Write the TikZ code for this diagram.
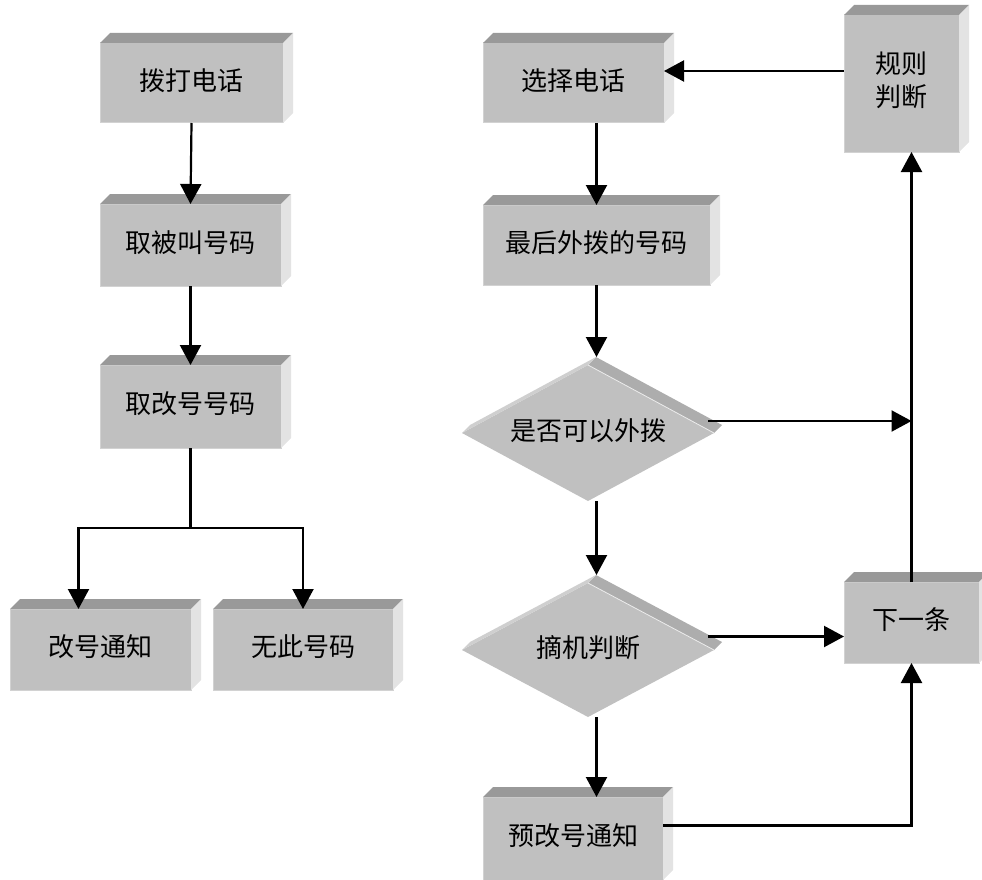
\documentclass[tikz,border=0pt]{standalone}
\usepackage{fontspec}
\newfontfamily\cjk{Noto Sans CJK SC}
\usetikzlibrary{shapes.geometric,arrows.meta,calc}

\definecolor{frontc}{HTML}{C0C0C0}
\definecolor{topc}{HTML}{999999}
\definecolor{sidec}{HTML}{E3E3E3}
\definecolor{edgec}{HTML}{D2D2D2}
\definecolor{dmtop}{HTML}{ADADAD}
\definecolor{dmleft}{HTML}{CFCFCF}

\tikzset{
  flowbox/.style={rectangle, fill=frontc, draw=edgec, line width=1pt, inner sep=0pt, outer sep=0pt,
    font=\cjk\fontsize{26}{33}\selectfont},
  diam/.style={diamond, fill=frontc, inner sep=0pt, outer sep=0pt, aspect=1.85,
    font=\cjk\fontsize{26}{33}\selectfont},
  topface/.style={fill=topc},
  sideface/.style={fill=sidec},
  conn/.style={line width=2.2pt, -{Triangle[width=21pt,length=20pt]}},
  plainline/.style={line width=2.2pt},
}

% name, left, top, right, bottom, text
\newcommand\boxthreed[6]{%
  \node[flowbox, minimum width={#4-#2}, minimum height={#5-#3}] (#1) at ({(#2+#4)/2},{(#3+#5)/2}) {\raisebox{7pt}{#6}};
  \fill[topface] (#1.north west) -- ++(10,-10) -- ($(#1.north east)+(10,-10)$) -- (#1.north east) -- cycle;
  \fill[sideface] (#1.north east) -- ++(10,-10) -- ($(#1.south east)+(10,-10)$) -- (#1.south east) -- cycle;
}
% name, cx, cy, w, h, text
\newcommand\diamthreed[6]{%
  \node[diam, minimum width=#4, minimum height=#5] (#1) at (#2,#3) {\raisebox{7pt}{#6}};
  \fill[dmtop] (#1.north) -- ++(8,-8) -- ($(#1.east)+(8,-8)$) -- (#1.east) -- cycle;
  \fill[dmleft] (#1.west) -- ++(8,-8) -- ($(#1.north)+(8,-8)$) -- (#1.north) -- cycle;
  \draw[white!85!gray, line width=0.8pt] (#1.north) -- (#1.east);
}

\begin{document}
\begin{tikzpicture}[x=1pt,y=-1pt]
\useasboundingbox (0,0) rectangle (982,880);
\clip (0,0) rectangle (982,880);

% left column
\boxthreed{b1}{100}{43}{283}{123}{拨打电话}
\boxthreed{b2}{100}{204}{281}{286}{取被叫号码}
\boxthreed{b3}{100}{365}{281}{448}{取改号号码}
\boxthreed{b4}{10}{609}{191}{690}{改号通知}
\boxthreed{b5}{213}{609}{393}{690}{无此号码}

% right column
\boxthreed{r1}{483}{43}{664}{123}{选择电话}
\boxthreed{r2}{483}{205}{710}{285}{最后外拨的号码}
\boxthreed{r3}{844}{15}{959}{152}{\begin{tabular}{@{}c@{}}规则\\判断\end{tabular}}
\boxthreed{r4}{844}{582}{979}{663}{下一条}
\boxthreed{r5}{483}{797}{663}{880}{预改号通知}

\diamthreed{d1}{588}{433}{252}{136}{是否可以外拨}
\diamthreed{d2}{588}{650}{252}{134}{摘机判断}

\coordinate (d1top) at ($(d1.north)+(8,-8)$);
\coordinate (d2top) at ($(d2.north)+(8,-8)$);
\coordinate (split) at ($(b3.south)+(0,80)$);
\path (r4.north) ++(0,-161) coordinate (j1);
\path (r4.west) ++(0,14) coordinate (j2);
\coordinate (j3) at ($(r1.east)+(0,-12)$);

% left connectors
\draw[conn] (b1.south) -- (b2.north);
\draw[conn] (b2.south) -- (b3.north);
\draw[plainline] (b3.south) -- (split);
\draw[conn] (split) -| ([xshift=-22pt]b4.north);
\draw[conn] (split) -| (b5.north);

% right connectors
\draw[conn] (r2.north |- r1.south) -- (r2.north);
\draw[conn] (r2.south) -- (r2.south |- d1top);
\draw[conn] (r2.south |- d1.south) -- (r2.south |- d2top);
\draw[conn] (r2.south |- d2.south) -- (r2.south |- r5.north);
\draw[conn] (r4.north) -- (r4.north |- r3.south);
\draw[conn] ([xshift=-6pt]d1.east |- j1) -- (j1);
\draw[conn] ([xshift=-6pt]d2.east |- j2) -- (j2);
\draw[conn] (r3.west |- j3) -- (j3);
\draw[conn] ([yshift=13pt]r5.east) -| (r4.south);
\end{tikzpicture}
\end{document}
